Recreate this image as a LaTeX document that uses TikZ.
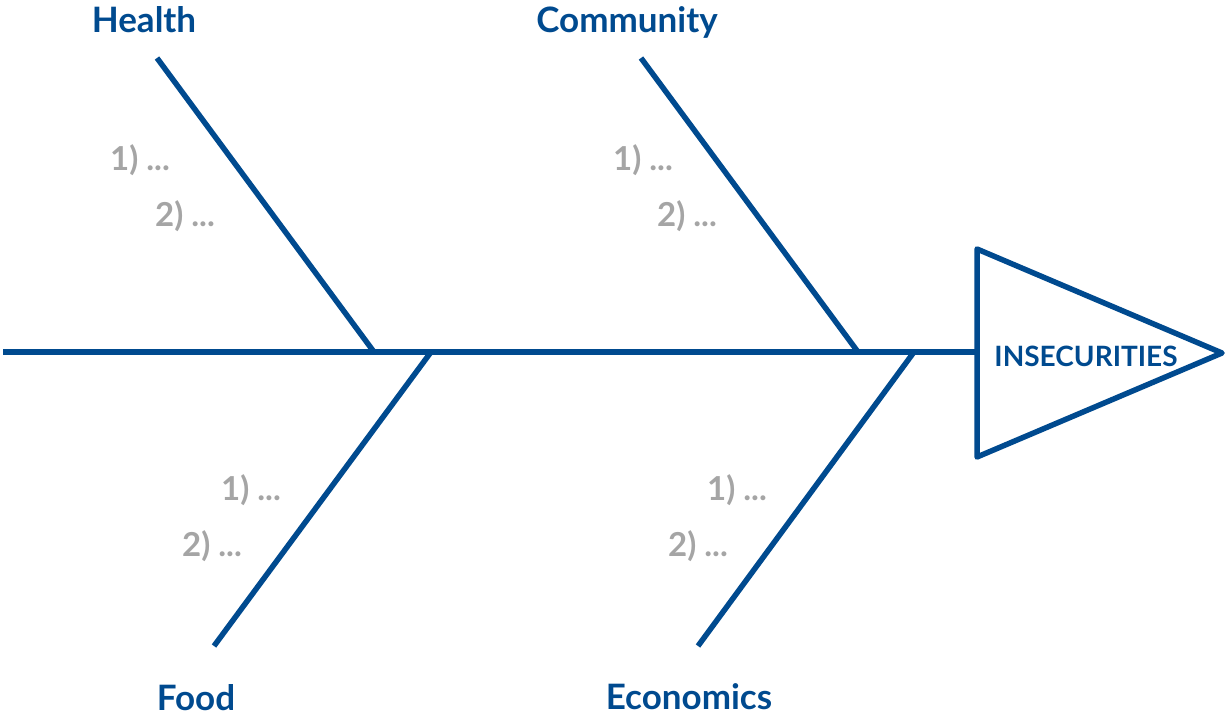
\documentclass[tikz,border=0pt]{standalone}
\usepackage{fontspec}
\setmainfont{Lato}
\usetikzlibrary{positioning}
\definecolor{fishblue}{RGB}{0,74,143}
\definecolor{itemgray}{RGB}{165,165,165}

\begin{document}
\begin{tikzpicture}[x=1pt, y=-1pt,
    bone/.style={draw=fishblue, line width=5.5pt, line cap=butt},
    cat/.style={font=\fontsize{35}{40}\selectfont\bfseries, text=fishblue, anchor=base, inner sep=0pt},
    item/.style={font=\fontsize{33}{38}\selectfont\bfseries, text=itemgray, anchor=base, inner sep=0pt},
]
\useasboundingbox (0,0) rectangle (1227,718);

% spine and head
\coordinate (tail) at (3,352);
\coordinate (neck) at (977,352);
\coordinate (headtop) at (977,249);
\coordinate (headtip) at (1222,353);
\coordinate (headbot) at (977,457);
\draw[bone] (tail) -- (neck);
\draw[bone, line join=round] (headtop) -- (headtip) -- (headbot) -- cycle;
\node[font=\fontsize{28}{32}\selectfont\bfseries, text=fishblue, inner sep=0pt] (effect) at (1086,356) {INSECURITIES};

% upper bones
\coordinate (healthtop) at (157,58);
\coordinate (healthfoot) at (374,352);
\coordinate (commtop) at (641,58);
\coordinate (commfoot) at (858,352);
\draw[bone] (healthtop) -- (healthfoot);
\draw[bone] (commtop) -- (commfoot);

% lower bones
\coordinate (foodfoot) at (431,352);
\coordinate (foodend) at (214,646);
\coordinate (econfoot) at (914,352);
\coordinate (econend) at (698,646);
\draw[bone] (foodfoot) -- (foodend);
\draw[bone] (econfoot) -- (econend);

% categories
\node[cat] (health) at (144,32) {Health};
\node[cat] (community) at (627,32) {Community};
\node[cat] (food) at (196,710) {Food};
\node[cat] (economics) at (689,709) {Economics};

% causes
\node[item] (health1) at (140,170) {1)~...};
\node[item] (health2) at (185,226) {2)~...};
\node[item] (comm1) at (643,170) {1)~...};
\node[item] (comm2) at (687,226) {2)~...};
\node[item] (food1) at (251,500) {1)~...};
\node[item] (food2) at (212,556) {2)~...};
\node[item] (econ1) at (737,500) {1)~...};
\node[item] (econ2) at (698,556) {2)~...};
\end{tikzpicture}
\end{document}
